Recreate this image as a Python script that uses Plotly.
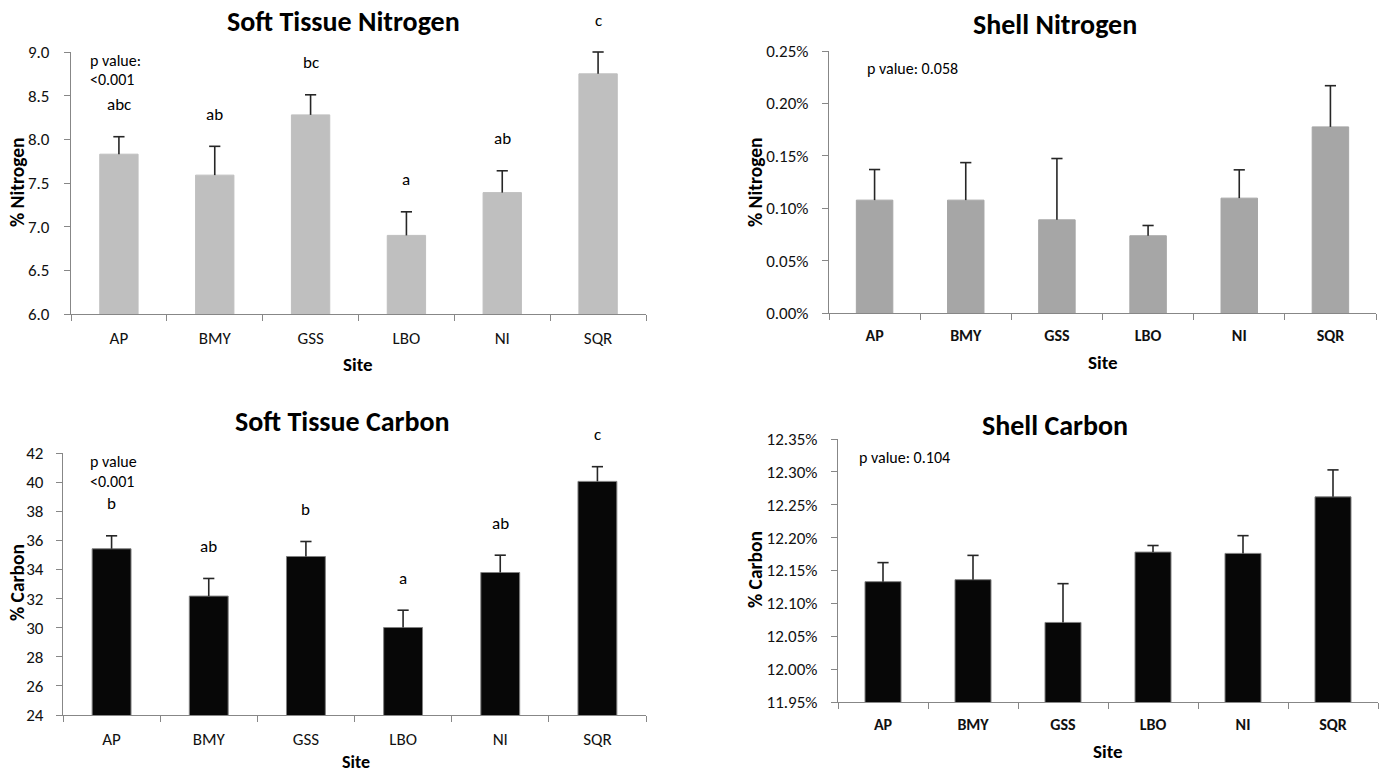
import plotly.graph_objects as go

# Sampling sites shared by all four panels
sites = ["AP", "BMY", "GSS", "LBO", "NI", "SQR"]

# Soft tissue nitrogen (%), mean and upper standard error
st_nitrogen = [7.83, 7.59, 8.28, 6.90, 7.39, 8.75]
st_nitrogen_err = [0.20, 0.33, 0.23, 0.27, 0.25, 0.25]
st_nitrogen_groups = ["abc", "ab", "bc", "a", "ab", "c"]

# Shell nitrogen (%)
sh_nitrogen = [0.1077, 0.1077, 0.0889, 0.0737, 0.1096, 0.1776]
sh_nitrogen_err = [0.0292, 0.0358, 0.0585, 0.0098, 0.0270, 0.0393]

# Soft tissue carbon (%)
st_carbon = [35.42, 32.17, 34.89, 30.01, 33.79, 40.05]
st_carbon_err = [0.89, 1.21, 1.03, 1.19, 1.19, 1.01]
st_carbon_groups = ["b", "ab", "b", "a", "ab", "c"]

# Shell carbon (%)
sh_carbon = [12.133, 12.136, 12.071, 12.178, 12.176, 12.262]
sh_carbon_err = [0.029, 0.037, 0.059, 0.010, 0.027, 0.041]

FONT = "Carlito, Lato, sans-serif"
AXIS_GREY = "#878787"
ERR_COLOR = "#262626"

W, H = 1384, 774


def px_x(p):
    return p / W


def px_y(p):
    return 1 - p / H


fig = go.Figure()

panels = [
    dict(v=st_nitrogen, e=st_nitrogen_err, color="#bfbfbf", line="#bfbfbf", n=1,
         xd=(71, 646), yd=(52, 314), yr=[6, 9], dtick=0.5, fmt=".1f", suf="",
         bold_x=False, xsize=17, standoff=11),
    dict(v=sh_nitrogen, e=sh_nitrogen_err, color="#a6a6a6", line="#a6a6a6", n=2,
         xd=(829, 1376), yd=(51, 313), yr=[0, 0.25], dtick=0.05, fmt=".2f", suf="%",
         bold_x=True, xsize=16, standoff=10),
    dict(v=st_carbon, e=st_carbon_err, color="#070707", line="#808080", n=3,
         xd=(63, 646), yd=(453, 715), yr=[24, 42], dtick=2, fmt="d", suf="",
         bold_x=False, xsize=17, standoff=9),
    dict(v=sh_carbon, e=sh_carbon_err, color="#070707", line="#808080", n=4,
         xd=(838, 1378), yd=(439, 702), yr=[11.95, 12.35], dtick=0.05, fmt=".2f", suf="%",
         bold_x=True, xsize=16, standoff=10),
]

layout_axes = {}
for p in panels:
    n = p["n"]
    xref = "x" if n == 1 else f"x{n}"
    yref = "y" if n == 1 else f"y{n}"
    tops = [v + e for v, e in zip(p["v"], p["e"])]
    fig.add_trace(go.Bar(
        x=sites, y=p["v"], xaxis=xref, yaxis=yref,
        marker=dict(color=p["color"], line=dict(color=p["line"], width=1)),
        showlegend=False, hoverinfo="skip",
    ))
    # upper error bar: stem from the bar top, cap marker at the end
    fig.add_trace(go.Scatter(
        x=sites, y=tops, xaxis=xref, yaxis=yref, mode="markers",
        marker=dict(symbol="line-ew", size=8, line=dict(color=ERR_COLOR, width=1.6)),
        error_y=dict(type="data", array=[0] * len(sites), arrayminus=p["e"],
                     symmetric=False, width=0, thickness=1.6, color=ERR_COLOR),
        showlegend=False, hoverinfo="skip", cliponaxis=False,
    ))
    xkey = "xaxis" if n == 1 else f"xaxis{n}"
    ykey = "yaxis" if n == 1 else f"yaxis{n}"
    layout_axes[xkey] = dict(
        domain=[px_x(p["xd"][0]), px_x(p["xd"][1])], anchor=yref,
        type="category", range=[-0.5, 5.5], tickson="boundaries",
        showline=True, linecolor=AXIS_GREY, linewidth=1.3,
        ticks="outside", ticklen=6, tickcolor=AXIS_GREY, tickwidth=1.3,
        showgrid=False, ticklabelstandoff=8, automargin=False,
        tickfont=dict(family=FONT, size=p["xsize"], color="#111",
                      weight="bold" if p["bold_x"] else "normal"),
    )
    layout_axes[ykey] = dict(
        domain=[px_y(p["yd"][1]), px_y(p["yd"][0])], anchor=xref,
        range=p["yr"], dtick=p["dtick"], tick0=p["yr"][0],
        tickformat=p["fmt"], ticksuffix=p["suf"],
        showline=True, linecolor=AXIS_GREY, linewidth=1.3,
        ticks="outside", ticklen=6, tickcolor=AXIS_GREY, tickwidth=1.3,
        showgrid=False, zeroline=False, ticklabelstandoff=p["standoff"],
        automargin=False,
        tickfont=dict(family=FONT, size=17, color="#111"),
    )

fig.update_layout(**layout_axes)

ann = []


def text(x, y, s, size, bold=False, angle=0, xanchor="center", yanchor="middle"):
    ann.append(dict(
        x=px_x(x), y=px_y(y), xref="paper", yref="paper", text=s, showarrow=False,
        textangle=angle, xanchor=xanchor, yanchor=yanchor,
        font=dict(family=FONT, size=size, color="#000", weight="bold" if bold else "normal"),
    ))


# panel titles
text(343, 22, "Soft Tissue Nitrogen", 28, bold=True)
text(1055, 25, "Shell Nitrogen", 28, bold=True)
text(342, 421, "Soft Tissue Carbon", 28, bold=True)
text(1055, 425, "Shell Carbon", 28, bold=True)

# axis titles
text(17, 182, "% Nitrogen", 19.5, bold=True, angle=-90)
text(755, 182, "% Nitrogen", 19.5, bold=True, angle=-90)
text(17, 583, "% Carbon", 19.5, bold=True, angle=-90)
text(755, 570, "% Carbon", 19.5, bold=True, angle=-90)
text(358, 364, "Site", 19, bold=True)
text(1103, 363, "Site", 19, bold=True)
text(356, 762, "Site", 18, bold=True)
text(1108, 751, "Site", 19, bold=True)

# p values
text(88, 61, "p value:", 16, xanchor="left")
text(88, 79, "&lt;0.001", 16, xanchor="left")
text(865, 68, "p value: 0.058", 16, xanchor="left")
text(88, 462, "p value", 16, xanchor="left")
text(88, 481, "&lt;0.001", 16, xanchor="left")
text(857, 457, "p value: 0.104", 16, xanchor="left")

# significance letters above each error bar
for xref, yref, vals, errs, groups in [
    ("x", "y", st_nitrogen, st_nitrogen_err, st_nitrogen_groups),
    ("x3", "y3", st_carbon, st_carbon_err, st_carbon_groups),
]:
    for s, v, e, g in zip(sites, vals, errs, groups):
        ann.append(dict(
            x=s, y=v + e, xref=xref, yref=yref, text=g, showarrow=False,
            yanchor="middle", yshift=32,
            font=dict(family=FONT, size=17, color="#000"),
        ))

fig.update_layout(
    width=W, height=H, margin=dict(l=0, r=0, t=0, b=0, autoexpand=False),
    paper_bgcolor="white", plot_bgcolor="white",
    bargap=0.6, annotations=ann, showlegend=False,
)

fig.write_html("out.html")
